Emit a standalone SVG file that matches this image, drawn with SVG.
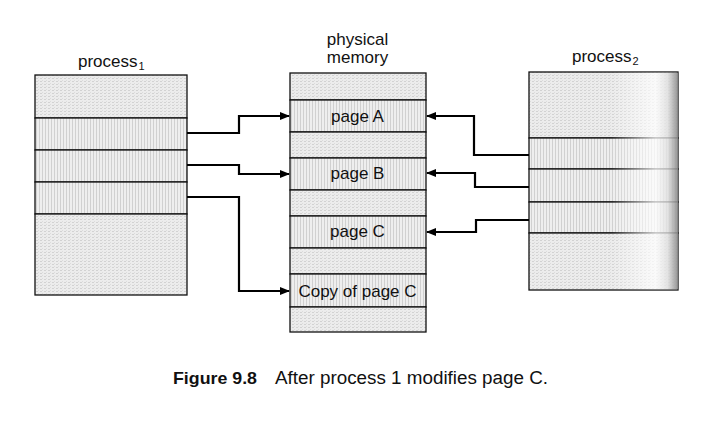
<svg xmlns="http://www.w3.org/2000/svg" width="724" height="443" viewBox="0 0 724 443">
<style>
  .lbl { font-family: "Liberation Sans", Arial, sans-serif; font-size: 17px; fill: #111; }
  .sub { font-size: 11px; }
  .cap { font-family: "Liberation Sans", Arial, sans-serif; font-size: 18px; fill: #111; }
  .capb { font-family: "Liberation Sans", Arial, sans-serif; font-size: 17px; font-weight: bold; fill: #111; }
  .st { fill: url(#stip); stroke: #111; stroke-width: 1.3; }
  .vt { fill: url(#vert); stroke: #111; stroke-width: 1.3; }
  .con { fill: none; stroke: #000; stroke-width: 2.2; }
</style>
<defs>
  <pattern id="stip" width="4" height="3" patternUnits="userSpaceOnUse">
    <rect width="4" height="3" fill="#ececec"/>
    <rect x="0" y="0" width="2" height="1" fill="#d2d2d2"/>
    <rect x="2" y="2" width="1" height="1" fill="#dcdcdc"/>
  </pattern>
  <pattern id="vert" width="3" height="4" patternUnits="userSpaceOnUse">
    <rect width="3" height="4" fill="#eeeeee"/>
    <rect x="0" y="0" width="1" height="4" fill="#d0d0d0"/>
  </pattern>
  <linearGradient id="fade" x1="0" y1="0" x2="1" y2="0">
    <stop offset="0" stop-color="#ffffff" stop-opacity="0"/>
    <stop offset="0.55" stop-color="#ffffff" stop-opacity="0"/>
    <stop offset="0.85" stop-color="#ffffff" stop-opacity="0.75"/>
    <stop offset="0.93" stop-color="#e0e0e0" stop-opacity="0.8"/>
    <stop offset="1" stop-color="#8a8a8a" stop-opacity="0.9"/>
  </linearGradient>
  <marker id="arr" markerWidth="10" markerHeight="8" refX="9" refY="4" orient="auto" markerUnits="userSpaceOnUse">
    <path d="M0,0 L10,4 L0,8 Z" fill="#000"/>
  </marker>
</defs>

<g id="process1">
  <text class="lbl" x="78" y="67">process<tspan class="sub" dx="1" dy="3">1</tspan></text>
  <rect class="st" x="35" y="75" width="152" height="43"/>
  <rect class="vt" x="35" y="118" width="152" height="32"/>
  <rect class="vt" x="35" y="150" width="152" height="32"/>
  <rect class="vt" x="35" y="182" width="152" height="32"/>
  <rect class="st" x="35" y="214" width="152" height="81"/>
</g>

<g id="memory">
  <text class="lbl" x="357.5" y="45" text-anchor="middle">physical</text>
  <text class="lbl" x="357.5" y="63" text-anchor="middle">memory</text>
  <rect class="st" x="290" y="73" width="136" height="27"/>
  <rect class="vt" x="290" y="100" width="136" height="32"/>
  <rect class="st" x="290" y="132" width="136" height="26"/>
  <rect class="vt" x="290" y="158" width="136" height="32"/>
  <rect class="st" x="290" y="190" width="136" height="26"/>
  <rect class="vt" x="290" y="216" width="136" height="32"/>
  <rect class="st" x="290" y="248" width="136" height="26"/>
  <rect class="vt" x="290" y="274" width="136" height="33"/>
  <rect class="st" x="290" y="307" width="136" height="25"/>
  <text class="lbl" x="357.5" y="122" text-anchor="middle">page A</text>
  <text class="lbl" x="357.5" y="179" text-anchor="middle">page B</text>
  <text class="lbl" x="357.5" y="237" text-anchor="middle">page C</text>
  <text class="lbl" x="357.5" y="297" text-anchor="middle">Copy of page C</text>
</g>

<g id="process2">
  <text class="lbl" x="572" y="62">process<tspan class="sub" dx="1" dy="3">2</tspan></text>
  <rect class="st" x="529" y="72" width="149" height="66"/>
  <rect class="vt" x="529" y="138" width="149" height="31"/>
  <rect class="vt" x="529" y="169" width="149" height="33"/>
  <rect class="vt" x="529" y="202" width="149" height="31"/>
  <rect class="st" x="529" y="233" width="149" height="57"/>
  <rect x="529.7" y="72.7" width="148.3" height="216.6" fill="url(#fade)"/>
</g>

<g id="connectors">
  <polyline class="con" points="187,133 239,133 239,116 289,116" marker-end="url(#arr)"/>
  <polyline class="con" points="187,165 239,165 239,174 289,174" marker-end="url(#arr)"/>
  <polyline class="con" points="187,197 239,197 239,291 289,291" marker-end="url(#arr)"/>
  <polyline class="con" points="529,155 474,155 474,116 427,116" marker-end="url(#arr)"/>
  <polyline class="con" points="529,187 475,187 475,173 427,173" marker-end="url(#arr)"/>
  <polyline class="con" points="529,220 476,220 476,232 427,232" marker-end="url(#arr)"/>
</g>

<g id="caption">
  <text class="capb" x="173" y="384" textLength="84" lengthAdjust="spacingAndGlyphs">Figure 9.8</text>
  <text class="cap" x="275" y="384" textLength="273" lengthAdjust="spacingAndGlyphs">After process 1 modifies page C.</text>
</g>
</svg>
